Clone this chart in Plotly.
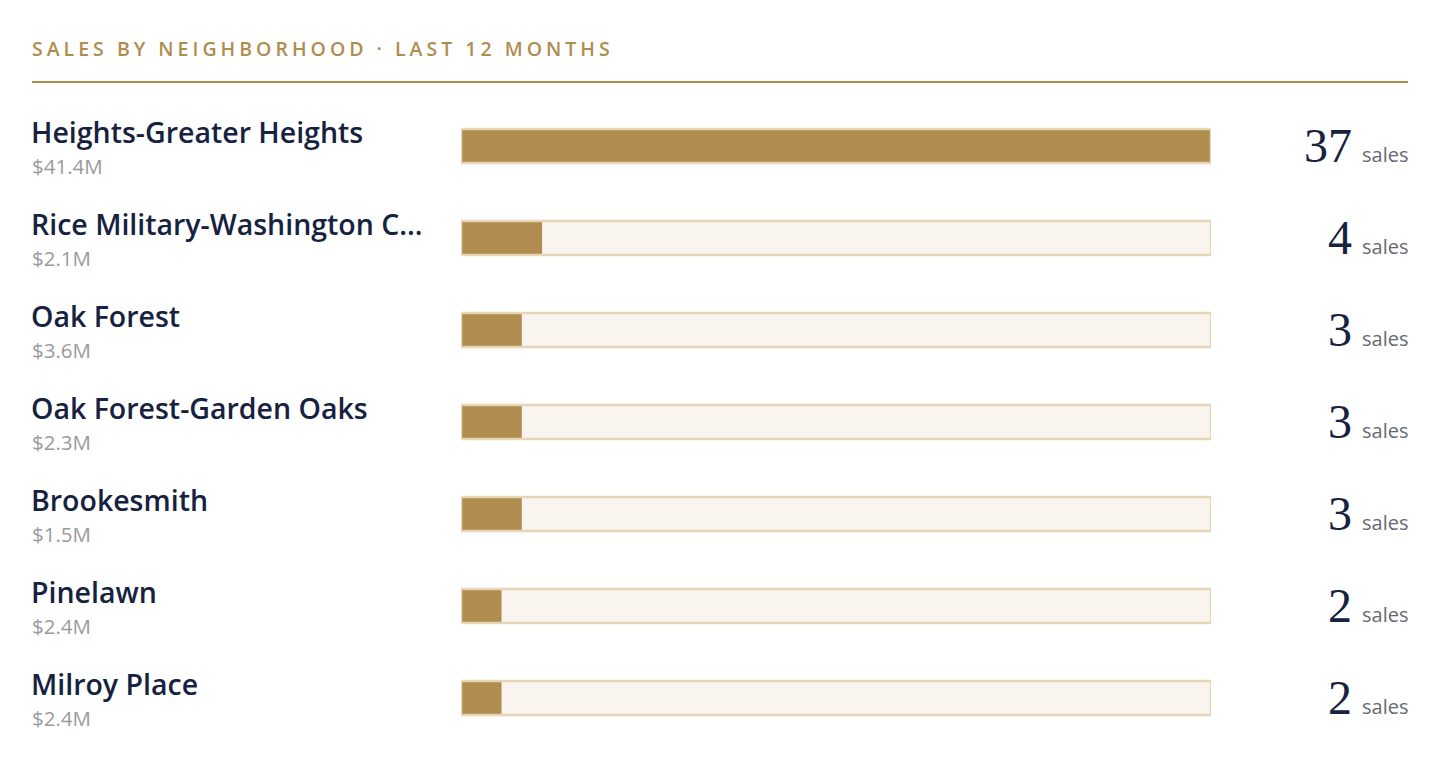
import plotly.graph_objects as go

names = ["Heights-Greater Heights", "Rice Military-Washington C\u2026", "Oak Forest",
         "Oak Forest-Garden Oaks", "Brookesmith", "Pinelawn", "Milroy Place"]
volumes = ["$41.4M", "$2.1M", "$3.6M", "$2.3M", "$1.5M", "$2.4M", "$2.4M"]
sales = [37, 4, 3, 3, 3, 2, 2]
title = "SALES BY NEIGHBORHOOD \u00b7 LAST 12 MONTHS"

W, H = 1440, 776
OFF = 8  # page body margin
GOLD = "#b08d4f"
TRACK = "#f9f5ee"
BORDER = "#e6d6b6"
NAVY = "#16223f"
GRAY = "#9a9a9a"

maxv = max(sales)
rows = list(range(len(names)))

fig = go.Figure()
fig.add_trace(go.Bar(
    y=rows, x=[maxv] * len(rows), orientation="h", width=0.37,
    marker=dict(color=TRACK, line=dict(width=0)),
    hoverinfo="skip", showlegend=False))
fig.add_trace(go.Bar(
    y=rows, x=sales, orientation="h", width=0.37,
    marker=dict(color=GOLD, line=dict(width=0)),
    hovertemplate="%{x} sales<extra></extra>", showlegend=False))
fig.add_trace(go.Bar(
    y=rows, x=[maxv] * len(rows), orientation="h", width=0.37,
    marker=dict(color="rgba(0,0,0,0)", line=dict(color=BORDER, width=2.5)),
    hoverinfo="skip", showlegend=False))

def px_x(p):
    return (p - OFF) / W

def px_y(p):
    return 1 - (p - OFF) / H

fig.update_layout(
    width=W, height=H, margin=dict(l=0, r=0, t=0, b=0),
    paper_bgcolor="white", plot_bgcolor="white", barmode="overlay",
    xaxis=dict(domain=[px_x(461), px_x(1211)], range=[0, maxv], visible=False, fixedrange=True),
    yaxis=dict(domain=[px_y(744), px_y(100)], range=[len(rows) - 0.5, -0.5], visible=False, fixedrange=True),
)

ann = []
ann.append(dict(
    xref="paper", yref="paper", x=px_x(30), y=px_y(48), xanchor="left", yanchor="middle",
    text=f'<span style="letter-spacing:4.0px">{title}</span>', showarrow=False,
    font=dict(family="Open Sans", size=19.5, color=GOLD, weight=600)))

for i in rows:
    ann.append(dict(xref="paper", yref="y", x=px_x(29), y=i, yshift=14,
                    xanchor="left", yanchor="middle", text=names[i], showarrow=False,
                    font=dict(family="Open Sans", size=28.5, color=NAVY, weight=600)))
    ann.append(dict(xref="paper", yref="y", x=px_x(30), y=i, yshift=-20,
                    xanchor="left", yanchor="middle", text=volumes[i], showarrow=False,
                    font=dict(family="Open Sans", size=20.5, color=GRAY)))
    ann.append(dict(xref="paper", yref="y", x=px_x(1354), y=i, yshift=1,
                    xanchor="right", yanchor="middle", text=str(sales[i]), showarrow=False,
                    font=dict(family="Liberation Serif", size=48, color=NAVY)))
    ann.append(dict(xref="paper", yref="y", x=px_x(1410), y=i, yshift=-8,
                    xanchor="right", yanchor="middle", text="sales", showarrow=False,
                    font=dict(family="Open Sans", size=20, color="#666a70")))

fig.update_layout(annotations=ann)
fig.add_shape(type="line", xref="paper", yref="paper", x0=px_x(32), x1=px_x(1408),
              y0=px_y(82), y1=px_y(82), line=dict(color=GOLD, width=2))

fig.write_html("out.html")
